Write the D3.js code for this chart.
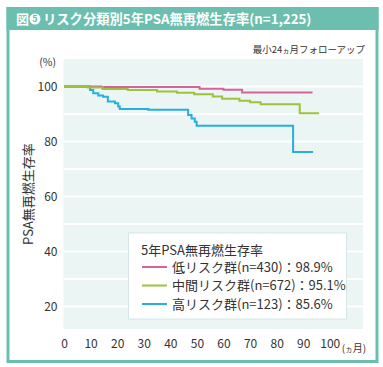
<!DOCTYPE html>
<html><head><meta charset="utf-8">
<script src="https://cdn.jsdelivr.net/npm/d3@7"></script>
<style>body{margin:0;background:#fff}svg{display:block}text{font-family:"Noto Sans CJK JP","Noto Sans",sans-serif}</style>
</head><body>
<script>
const xTicks = [0,10,20,30,40,50,60,70,80,90,100];
const yTicks = [20,40,60,80,100];
const yGrid = [20,30,40,50,60,70,80,90,100];

const lowMonths  = [0, 14, 51, 60, 67, 93.5];
const lowValues  = [100, 99.8, 99.2, 98.8, 97.8, 97.8];
const midMonths  = [0, 9, 14.5, 24, 35, 42.5, 49, 56, 59.5, 66, 70, 74, 88.7, 96];
const midValues  = [100, 99.6, 99.1, 98.7, 98.2, 97.7, 97.2, 96.4, 95.5, 94.8, 94.3, 93.5, 90.3, 90.3];
const highMonths = [0, 9.8, 11, 12.9, 14.7, 16.5, 19.2, 20.4, 21, 31.7, 46.7, 48, 49.2, 49.9, 86.2, 93.7];
const highValues = [100, 98.7, 97.5, 96.7, 96.3, 94.5, 93.9, 92.7, 91.8, 91.5, 89.6, 88.4, 87.2, 85.7, 76.2, 76.2];

const seriesNames = ["低リスク群(n=430)：98.9%", "中間リスク群(n=672)：95.1%", "高リスク群(n=123)：85.6%"];
const seriesColors = ["#d6639c", "#9cc33a", "#29aedc"];

const W = 383, H = 367, teal = "#6cbfae";
const svg = d3.select("body").append("svg").attr("width", W).attr("height", H);

// frame
svg.append("rect").attr("x", 8).attr("y", 8.5).attr("width", 369).attr("height", 353)
  .attr("fill", "#fff").attr("stroke", teal).attr("stroke-width", 3);
svg.append("rect").attr("x", 6.5).attr("y", 7).attr("width", 372).attr("height", 23).attr("fill", teal);
svg.append("text").attr("x", 16).attr("y", 24).attr("fill", "#fff").attr("font-size", 13).attr("font-weight", "bold").text("図");
svg.append("circle").attr("cx", 35).attr("cy", 19).attr("r", 5.5).attr("fill", "#fff");
svg.append("text").attr("x", 35).attr("y", 22.3).attr("fill", teal).attr("font-size", 9).attr("font-weight", "bold")
  .attr("text-anchor", "middle").text("5");
svg.append("text").attr("x", 43).attr("y", 24).attr("fill", "#fff").attr("font-size", 13.3).attr("font-weight", "bold")
  .text("リスク分類別5年PSA無再燃生存率(n=1,225)");

// subtitle
const sub = svg.append("text").attr("x", 365).attr("y", 53).attr("text-anchor", "end").attr("fill", "#333").attr("font-size", 9.5);
sub.append("tspan").text("最小24");
sub.append("tspan").attr("font-size", 7).text("ヵ");
sub.append("tspan").text("月フォローアップ");

// scales
const x = d3.scaleLinear().domain([0, 112.5]).range([64, 363]);
const y = d3.scaleLinear().domain([11.8, 110]).range([329, 59]);

svg.append("rect").attr("x", 63.5).attr("y", 59).attr("width", 363 - 63.5).attr("height", 329 - 59).attr("fill", "#eaf5f4");
svg.append("g").selectAll("line").data(yGrid).join("line")
  .attr("x1", 63.5).attr("x2", 363).attr("y1", d => y(d)).attr("y2", d => y(d))
  .attr("stroke", "#fff").attr("stroke-width", 2);

// axes
const yAxis = svg.append("g").attr("transform", "translate(63.5,0)")
  .call(d3.axisLeft(y).tickValues(yTicks).tickSize(0).tickPadding(6));
yAxis.select(".domain").remove();
yAxis.selectAll("text").attr("font-size", 12).attr("fill", "#333").attr("font-family", "'Noto Sans','Noto Sans CJK JP',sans-serif");

const xAxis = svg.append("g").attr("transform", "translate(0,339)")
  .call(d3.axisBottom(x).tickValues(xTicks).tickSize(0).tickPadding(0));
xAxis.select(".domain").remove();
xAxis.selectAll("text").attr("font-size", 12).attr("fill", "#333").attr("font-family", "'Noto Sans','Noto Sans CJK JP',sans-serif");

const unit = svg.append("text").attr("x", x(100) + 12).attr("y", 352).attr("fill", "#333").attr("font-size", 10);
unit.append("tspan").text("(");
unit.append("tspan").attr("font-size", 7.5).text("ヵ");
unit.append("tspan").text("月)");

svg.append("text").attr("x", 56).attr("y", 66).attr("text-anchor", "end").attr("fill", "#333").attr("font-size", 10.5).text("(%)");
svg.append("text").attr("transform", "translate(33,194) rotate(-90)").attr("text-anchor", "middle")
  .attr("fill", "#333").attr("font-size", 13).text("PSA無再燃生存率");

// lines
const line = d3.line().x(d => x(d[0])).y(d => y(d[1])).curve(d3.curveStepAfter);
const data = [
  {i: 2, m: highMonths, v: highValues},
  {i: 0, m: lowMonths, v: lowValues},
  {i: 1, m: midMonths, v: midValues}
];
data.forEach(s => {
  svg.append("path").attr("d", line(d3.zip(s.m, s.v))).attr("fill", "none")
    .attr("stroke", seriesColors[s.i]).attr("stroke-width", 2);
});

// legend
svg.append("rect").attr("x", 128.5).attr("y", 233).attr("width", 218).attr("height", 86)
  .attr("fill", "#fff").attr("stroke", "#d4e6e6").attr("stroke-width", 1);
svg.append("text").attr("x", 141).attr("y", 255).attr("fill", "#333").attr("font-size", 13).text("5年PSA無再燃生存率");
seriesNames.forEach((n, i) => {
  const yy = 267 + i * 18.5;
  svg.append("line").attr("x1", 142).attr("x2", 167).attr("y1", yy).attr("y2", yy)
    .attr("stroke", seriesColors[i]).attr("stroke-width", 2);
  svg.append("text").attr("x", 172).attr("y", yy + 4.5).attr("fill", "#333").attr("font-size", 13).text(n);
});
</script>
</body></html>
